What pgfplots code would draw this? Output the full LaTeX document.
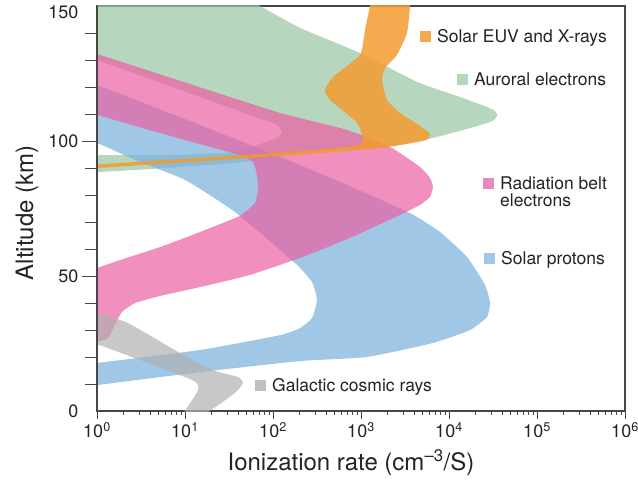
\documentclass[border=0pt]{standalone}
\usepackage{fontspec}
\setmainfont{TeX Gyre Heros}
\usepackage{pgfplots}
\pgfplotsset{compat=1.18}
\definecolor{cgreen}{RGB}{153,197,162}
\definecolor{cblue}{RGB}{120,176,220}
\definecolor{cpink}{RGB}{235,95,162}
\definecolor{cgray}{RGB}{176,176,176}
\definecolor{corange}{RGB}{243,155,49}
\definecolor{ctext}{RGB}{35,35,35}
\definecolor{caxis}{RGB}{70,70,70}
\definecolor{sqorange}{RGB}{245,170,80}
\definecolor{sqgreen}{RGB}{180,215,185}
\definecolor{sqpink}{RGB}{235,135,185}
\definecolor{sqblue}{RGB}{160,200,230}
\definecolor{sqgray}{RGB}{192,192,192}
\newcommand{\sq}[1]{\textcolor{#1}{\rule[0.5bp]{11bp}{11bp}}\hspace{6bp}}
\begin{document}
\begin{tikzpicture}
\begin{axis}[
  scale only axis, width=528bp, height=405bp,
  xmin=0, xmax=6, ymin=0, ymax=150,
  axis line style={draw=caxis, line width=1.3pt},
  xtick={0,1,2,3,4,5,6},
  xticklabels={10\textsuperscript{0},10\textsuperscript{1},10\textsuperscript{2},10\textsuperscript{3},10\textsuperscript{4},10\textsuperscript{5},10\textsuperscript{6}},
  minor xtick={0.301,0.477,0.602,0.699,0.778,0.845,0.903,0.954,
    1.301,1.477,1.602,1.699,1.778,1.845,1.903,1.954,
    2.301,2.477,2.602,2.699,2.778,2.845,2.903,2.954,
    3.301,3.477,3.602,3.699,3.778,3.845,3.903,3.954,
    4.301,4.477,4.602,4.699,4.778,4.845,4.903,4.954,
    5.301,5.477,5.602,5.699,5.778,5.845,5.903,5.954},
  ytick=\empty,
  tick align=outside, xtick pos=bottom,
  major tick length=8bp, minor tick length=3.5bp,
  tick style={draw=caxis, line width=0.8pt},
  xticklabel style={font=\fontsize{18bp}{20bp}\selectfont, text=ctext},
  xlabel={Ionization rate (cm\textsuperscript{–3}/S)},
  ylabel={Altitude (km)},
  label style={font=\fontsize{24bp}{28bp}\selectfont, text=ctext},
  xlabel style={at={(axis description cs:0.481,-0.1284)}, anchor=center},
  ylabel style={at={(axis description cs:-0.1326,0.489)}, anchor=center},
  clip=true,
]
\coordinate (ll) at (rel axis cs:0,0);
\coordinate (ur) at (rel axis cs:1,1);
% Auroral electrons
\addplot[draw=none, fill=cgreen, fill opacity=0.7, smooth, tension=0.3] coordinates {
 (-0.1,155) (1.57,155) (1.852,150) (2.307,141.9) (2.989,132.6) (3.636,121.9) (4.125,116.3) (4.432,112.6) (4.52,111.2) (4.55,109.6) (4.52,108) (4.466,107) (4.239,104.8) (3.864,101.5) (3.330,98.1) (2.761,96.7) (2.307,95.6) (1.568,91.9) (0.602,89.6) (0,88.5) (-0.1,88.5)
 (-0.1,94.8) (0,94.8) (0.83,94.8) (1.568,95.9) (2.0,100.6) (2.07,101.7) (2.10,103.5) (2.07,105.3) (2.0,106.6) (1.170,116.3) (0,130) (-0.1,130)
};
% Solar protons
\addplot[draw=none, fill=cblue, fill opacity=0.7, smooth, tension=0.3] coordinates {
 (-0.1,120.7) (0,120.7) (1.057,107.4) (2.080,94.1) (2.818,84.1) (3.557,73.3) (3.898,66.3) (4.205,57) (4.409,46.7) (4.466,40) (4.432,34.8) (4.239,30) (3.818,25.2) (3.068,20) (2.307,18.5) (1.170,14.4) (0,9.6) (-0.1,9.6)
 (-0.1,17.8) (0,17.8) (1.170,22.6) (2.080,28.1) (2.307,30.7) (2.443,34.4) (2.5,41.1) (2.443,47.8) (2.25,54.8) (1.568,73.7) (1.0,85.6) (0.489,92.2) (0,99.3) (-0.1,99.3)
};
% Radiation belt electrons
\addplot[draw=none, fill=cpink, fill opacity=0.7, smooth, tension=0.3] coordinates {
 (-0.1,132.2) (0,132.2) (1.057,121.1) (2.080,110.4) (2.841,104.1) (3.330,97.8) (3.670,90.4) (3.784,86.3) (3.818,83) (3.784,79.3) (3.670,76.3) (3.443,72.6) (2.875,64.1) (2.307,56.7) (1.739,50.4) (1.170,45.9) (0.716,42.6) (0.432,40) (0.284,36.7) (0.205,31.9) (0.125,27) (0,25.6) (-0.1,25.6)
 (-0.1,53) (0,53) (0.261,55.9) (0.716,60.7) (1.170,66.3) (1.602,71.9) (1.682,73.7) (1.795,77) (1.830,81.9) (1.818,87.4) (1.773,92.2) (1.625,94.8) (1.114,99.3) (0.557,104.4) (0,109.6) (-0.1,109.6)
};
% Galactic cosmic rays
\addplot[draw=none, fill=cgray, fill opacity=0.7, smooth, tension=0.3] coordinates {
 (-0.1,36.3) (0,36.3) (0.352,32.6) (0.92,21.9) (1.307,15.2) (1.602,12.6) (1.659,10.4) (1.568,6.7) (1.227,-1) (1.0,-1) (1.0,0) (1.148,7.8) (1.080,11.5) (0.091,23.7) (0,24.4) (-0.1,24.4)
};
% Solar EUV and X-rays
\addplot[draw=none, fill=corange, fill opacity=0.85, smooth, tension=0.3] coordinates {
 (3.11,155) (3.56,155) (3.557,150) (3.523,140) (3.409,131.9) (3.273,127) (3.239,122.6) (3.295,115.2) (3.443,110.4) (3.670,105.6) (3.784,102.6) (3.75,100.4) (3.591,99.3) (3.216,97.4) (2.25,94.8) (0,90) (-0.1,89.9)
 (-0.1,91.3) (0,91.3) (2.25,96.1) (2.932,98.1) (3.023,100.4) (2.955,106.7) (2.648,115.2) (2.591,118.9) (2.682,123.7) (2.989,131.9) (3.045,141.1) (3.102,150)
};
\begin{scope}[every node/.style={anchor=base west, inner sep=0pt, font=\fontsize{17.5bp}{20bp}\selectfont, text=ctext}]
\node at (axis cs:3.670,136.3) {\sq{sqorange}Solar EUV and X-rays};
\node at (axis cs:4.091,120.4) {\sq{sqgreen}Auroral electrons};
\node at (axis cs:4.386,82.2) {\sq{sqpink}Radiation belt};
\node at (axis cs:4.58,75.9) {electrons};
\node at (axis cs:4.398,54.1) {\sq{sqblue}Solar protons};
\node at (axis cs:1.795,7.4) {\sq{sqgray}Galactic cosmic rays};
\end{scope}
\end{axis}
\begin{axis}[
  scale only axis, width=528bp, height=405bp,
  xmin=0, xmax=6, ymin=0, ymax=150,
  hide x axis,
  axis line style={draw=caxis, line width=1.3pt},
  ytick={50,100},
  yticklabels={50,100},
  extra y ticks={0,150},
  extra y tick labels={0,\raisebox{-6.5bp}[\height][\depth]{150}},
  extra y tick style={major tick style={draw=none}},
  minor ytick={10,20,30,40,60,70,80,90,110,120,130,140},
  tick align=outside, ytick pos=left,
  major tick length=15bp, minor tick length=12bp,
  tick style={draw=caxis, line width=0.8pt},
  yticklabel style={font=\fontsize{18bp}{20bp}\selectfont, text=ctext},
]
\end{axis}
\pgfresetboundingbox
\useasboundingbox ([xshift=-97bp,yshift=-70bp]ll) rectangle ([xshift=13bp,yshift=6bp]ur);
\end{tikzpicture}
\end{document}
